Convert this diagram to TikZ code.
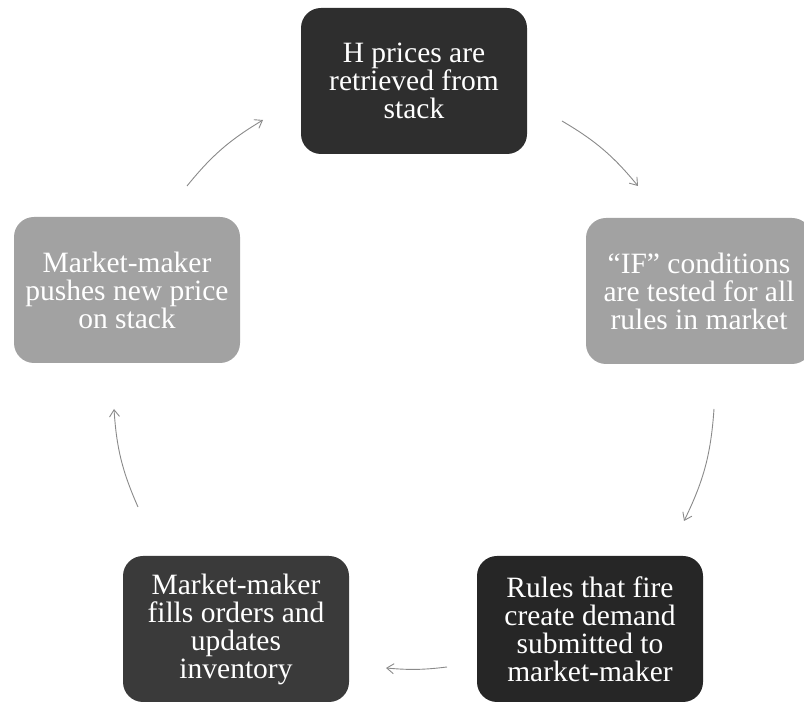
\documentclass[tikz,border=0pt]{standalone}
\usepackage{fontspec}
\setmainfont{Liberation Serif}
\usetikzlibrary{arrows.meta}
\definecolor{boxdark}{HTML}{2E2E2E}
\definecolor{boxdarker}{HTML}{262626}
\definecolor{boxmid}{HTML}{3A3A3A}
\definecolor{boxgrey}{HTML}{A2A2A2}
\definecolor{arrgrey}{HTML}{8A8A8A}
\begin{document}
\begin{tikzpicture}[x=1pt,y=1pt,
  stepbox/.style={rectangle, rounded corners=20pt, minimum width=226pt, minimum height=146pt,
    inner sep=0pt, text=white, align=center,
    font=\fontsize{29.5}{28}\selectfont},
  cyc/.style={draw=arrgrey, line width=0.9pt, -{Straight Barb[length=7pt,width=10pt]}}]
\useasboundingbox (0,0) rectangle (804,704);
\begin{scope}
\clip (0,0) rectangle (804,704);
\node[stepbox, fill=boxdark] (top) at (414,623) {H prices are\\retrieved from\\stack};
\node[stepbox, fill=boxgrey] (right) at (699,413) {“IF” conditions\\are tested for all\\rules in market};
\node[stepbox, fill=boxgrey] (left) at (127,414) {Market-maker\\pushes new price\\on stack};
\node[stepbox, fill=boxmid] (bl) at (236,75) {Market-maker\\fills orders and\\updates\\inventory};
\node[stepbox, fill=boxdarker] (br) at (590,75) {Rules that fire\\create demand\\submitted to\\market-maker};
\end{scope}
\coordinate (tls) at (187,518);
\coordinate (tle) at (263,584);
\coordinate (trs) at (562,583);
\coordinate (tre) at (638,518);
\coordinate (rs) at (714,295);
\coordinate (re) at (684,183);
\coordinate (bs) at (447,37);
\coordinate (be) at (386,36);
\coordinate (ls) at (138,197);
\coordinate (le) at (114,295);
\draw[cyc] (tls) to[bend left=10] (tle);
\draw[cyc] (trs) to[bend left=10] (tre);
\draw[cyc] (rs) to[bend left=11] (re);
\draw[cyc] (bs) to[bend left=6] (be);
\draw[cyc] (ls) to[bend left=10] (le);
\end{tikzpicture}
\end{document}
